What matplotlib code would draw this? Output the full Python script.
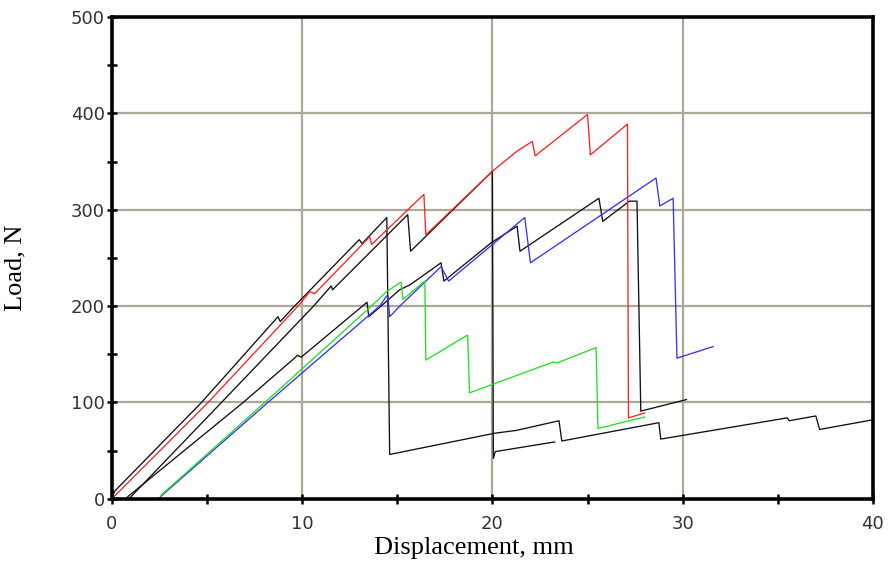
import numpy as np
import matplotlib
matplotlib.use("Agg")
from matplotlib import pyplot as plt
from matplotlib.ticker import MultipleLocator

# load-displacement curves (mm, N)
red_x = [0, 5.06, 9.78, 10.4, 10.66, 13.55, 13.65, 16.4, 16.5, 20.0, 21.3, 22.1, 22.25, 25.0, 25.15, 27.1, 27.15, 28.0]
red_y = [0, 100, 200, 215, 213, 272, 264, 316, 274, 340, 361, 371, 356, 399, 357, 389, 84, 89]

blue_x = [0, 2.5, 2.6, 8.2, 14.07, 14.5, 14.6, 15.13, 17.3, 17.7, 21.7, 22.0, 28.6, 28.8, 29.5, 29.7, 31.6]
blue_y = [0, 0, 3, 100, 200, 212, 189, 200, 241, 226, 292, 245, 333, 304, 312, 146, 158]

green_x = [0, 2.5, 2.6, 8.04, 13.64, 14.43, 15.2, 15.3, 16.45, 16.5, 18.7, 18.8, 23.2, 23.4, 25.45, 25.55, 28.0]
green_y = [0, 0, 4, 100, 200, 215, 225, 207, 226, 144, 170, 110, 142, 141, 157, 73, 85]

blackA_x = [0, 0.15, 4.71, 8.73, 8.85, 9.6, 13.0, 13.15, 14.45, 14.6, 20.1, 21.26, 23.5, 23.65, 28.75, 28.85, 35.5, 35.6, 37.0, 37.2, 40.0]
blackA_y = [0, 8, 100, 189, 184, 200, 269, 265, 292, 46, 68, 71, 81, 60, 79, 62, 84, 81, 86, 72, 82]

blackB_x = [0.9, 5.76, 10.6, 11.53, 11.6, 15.55, 15.7, 20.0, 20.05, 20.15, 23.27]
blackB_y = [0, 100, 200, 221, 217, 295, 257, 340, 42, 49, 59]

blackC_x = [0.7, 6.9, 9.6, 9.75, 9.95, 13.41, 13.5, 15.13, 15.66, 17.3, 17.45, 19.95, 21.3, 21.45, 25.6, 25.8, 27.2, 27.6, 27.8, 30.2]
blackC_y = [0, 100, 146, 149, 147, 204, 189, 217, 222, 245, 226, 266, 283, 257, 312, 288, 309, 309, 91, 103]

fig = plt.figure(figsize=(8.88, 5.72), dpi=100)
ax = fig.add_axes([0.126, 0.128, 0.857, 0.842])

grid_col = '#aca798'
for v in [10, 20, 30]:
    ax.axvline(v, color=grid_col, lw=1.6, zorder=0)
for v in [100, 200, 300, 400]:
    ax.axhline(v, color=grid_col, lw=1.6, zorder=0)

lw = 0.95
ax.plot(blackC_x, blackC_y, color='#111111', lw=lw)
ax.plot(blackB_x, blackB_y, color='#111111', lw=lw)
ax.plot(blackA_x, blackA_y, color='#111111', lw=lw)
ax.plot(blue_x, blue_y, color='#3333ff', lw=lw)
ax.plot(green_x, green_y, color='#22e022', lw=lw)
ax.plot(red_x, red_y, color='#ff2222', lw=lw)

ax.set_xlim(0, 40)
ax.set_ylim(0, 500)
ax.xaxis.set_major_locator(MultipleLocator(10))
ax.xaxis.set_minor_locator(MultipleLocator(5))
ax.yaxis.set_major_locator(MultipleLocator(100))
ax.yaxis.set_minor_locator(MultipleLocator(50))
ax.tick_params(which='both', direction='inout', length=7, width=1.8, color='black',
               labelsize=13, labelcolor='#333333')
ax.tick_params(axis='x', which='both', pad=8)
ax.tick_params(axis='y', which='both', pad=1.5)

for s in ax.spines.values():
    s.set_linewidth(2.6)
    s.set_color('black')

ax.set_xlabel('Displacement, mm', fontfamily='Liberation Serif', fontsize=19)
ax.set_ylabel('Load, N', fontfamily='Liberation Serif', fontsize=19)
ax.xaxis.set_label_coords(0.476, -0.079)
ax.yaxis.set_label_coords(-0.112, 0.48)

fig.savefig('out.png', dpi=100)
